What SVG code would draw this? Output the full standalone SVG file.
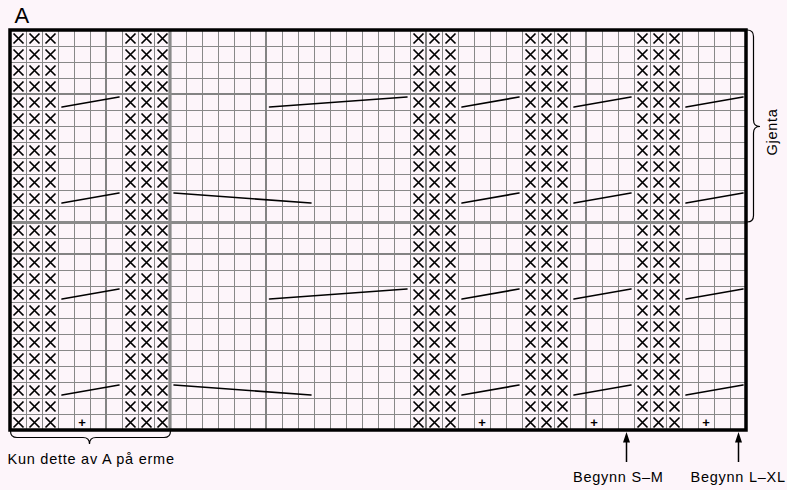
<svg xmlns="http://www.w3.org/2000/svg" xmlns:xlink="http://www.w3.org/1999/xlink" width="787" height="490" viewBox="0 0 787 490">
<style>
.thin{stroke:#888;stroke-width:1;fill:none}
.med{stroke:#838383;stroke-width:2;fill:none}
.thick{stroke:#8a8a8a;stroke-width:3.2;fill:none}
.xm{stroke:#000;stroke-width:1.7;fill:none}
.dg{stroke:#000;stroke-width:1.6;fill:none;stroke-linecap:round}
.br{stroke:#000;stroke-width:1.2;fill:none}
.lbl{font-family:"Liberation Sans",Arial,Helvetica,sans-serif;font-size:14.5px;letter-spacing:0.75px;fill:#000}
.pl{font-family:"Liberation Sans",Arial,Helvetica,sans-serif;font-size:13px;font-weight:bold;fill:#000;text-anchor:middle}
</style>
<defs>
<path id="x1" class="xm" d="M13.5 33.5L23.5 43.5M23.5 33.5L13.5 43.5"/>
<g id="xrow"><use xlink:href="#x1"/><use xlink:href="#x1" x="16"/><use xlink:href="#x1" x="32"/></g>
<g id="xblock">
<use xlink:href="#xrow" y="0"/><use xlink:href="#xrow" y="16"/><use xlink:href="#xrow" y="32"/><use xlink:href="#xrow" y="48"/><use xlink:href="#xrow" y="64"/>
<use xlink:href="#xrow" y="80"/><use xlink:href="#xrow" y="96"/><use xlink:href="#xrow" y="112"/><use xlink:href="#xrow" y="128"/><use xlink:href="#xrow" y="144"/>
<use xlink:href="#xrow" y="160"/><use xlink:href="#xrow" y="176"/><use xlink:href="#xrow" y="192"/><use xlink:href="#xrow" y="208"/><use xlink:href="#xrow" y="224"/>
<use xlink:href="#xrow" y="240"/><use xlink:href="#xrow" y="256"/><use xlink:href="#xrow" y="272"/><use xlink:href="#xrow" y="288"/><use xlink:href="#xrow" y="304"/>
<use xlink:href="#xrow" y="320"/><use xlink:href="#xrow" y="336"/><use xlink:href="#xrow" y="352"/><use xlink:href="#xrow" y="368"/><use xlink:href="#xrow" y="384"/>
</g>
<path id="sg" class="dg" d="M62 107L119 97"/>
</defs>
<rect width="787" height="490" fill="#fdf5fa"/>
<text x="14.5" y="23" font-family="Liberation Sans, Arial, sans-serif" font-size="22">A</text>
<g id="grid">
<path class="thin" transform="translate(0.5 0.5)" d="M26 30V430M42 30V430M58 30V430M74 30V430M90 30V430M122 30V430M138 30V430M154 30V430M186 30V430M202 30V430M218 30V430M234 30V430M250 30V430M282 30V430M298 30V430M314 30V430M330 30V430M346 30V430M362 30V430M378 30V430M394 30V430M410 30V430M442 30V430M458 30V430M474 30V430M490 30V430M506 30V430M522 30V430M538 30V430M554 30V430M570 30V430M602 30V430M618 30V430M634 30V430M650 30V430M666 30V430M682 30V430M698 30V430M714 30V430M730 30V430"/>
<path class="thin" transform="translate(0.5 0.5)" d="M10 46H746M10 62H746M10 78H746M10 110H746M10 126H746M10 142H746M10 158H746M10 174H746M10 190H746M10 206H746M10 238H746M10 270H746M10 286H746M10 302H746M10 318H746M10 334H746M10 350H746M10 366H746M10 382H746M10 398H746M10 414H746"/>
<path class="med" d="M106 30V430M266 30V430M426 30V430M586 30V430M10 94H746M10 254H746"/>
<path class="thick" d="M170 30V430M10 222.5H746"/>
</g>
<g id="symbols">
<use xlink:href="#xblock"/>
<use xlink:href="#xblock" x="112"/>
<use xlink:href="#xblock" x="400"/>
<use xlink:href="#xblock" x="512"/>
<use xlink:href="#xblock" x="624"/>
<text class="pl" x="82" y="426.5">+</text>
<text class="pl" x="482" y="426.5">+</text>
<text class="pl" x="594" y="426.5">+</text>
<text class="pl" x="706" y="426.5">+</text>
</g>
<g id="cables">
<use xlink:href="#sg"/><use xlink:href="#sg" y="96"/><use xlink:href="#sg" y="192"/><use xlink:href="#sg" y="288"/>
<use xlink:href="#sg" x="400"/><use xlink:href="#sg" x="400" y="96"/><use xlink:href="#sg" x="400" y="192"/><use xlink:href="#sg" x="400" y="288"/>
<use xlink:href="#sg" x="512"/><use xlink:href="#sg" x="512" y="96"/><use xlink:href="#sg" x="512" y="192"/><use xlink:href="#sg" x="512" y="288"/>
<use xlink:href="#sg" x="624"/><use xlink:href="#sg" x="624" y="96"/><use xlink:href="#sg" x="624" y="192"/><use xlink:href="#sg" x="624" y="288"/>
<path class="dg" d="M269.5 107L407 97M269.5 299L407 289M174 193L311 203M174 385L311 395"/>
</g>
<rect x="10" y="30" width="736" height="400" fill="none" stroke="#000" stroke-width="3.5"/>
<g id="annotations">
<path class="br" d="M10.5 431Q10.5 437.5 17 437.5H83Q89.5 437.5 89.5 444Q89.5 437.5 96 437.5H164Q170.5 437.5 170.5 431"/>
<text class="lbl" x="7.5" y="464">Kun dette av A på erme</text>
<path class="br" d="M747 30Q753.5 30 753.5 36.5V120Q753.5 126.5 760 126.5Q753.5 126.5 753.5 133V215.5Q753.5 222 747 222"/>
<text class="lbl" transform="translate(776.5 132) rotate(-90)" text-anchor="middle">Gjenta</text>
<path stroke="#000" stroke-width="1.5" d="M626.5 462V440M738.5 462V440"/>
<path fill="#000" d="M626.5 432L623 442.5H630ZM738.5 432L735 442.5H742Z"/>
<text class="lbl" x="573" y="481.5">Begynn S–M</text>
<text class="lbl" x="690.5" y="481.5">Begynn L–XL</text>
</g>
</svg>
